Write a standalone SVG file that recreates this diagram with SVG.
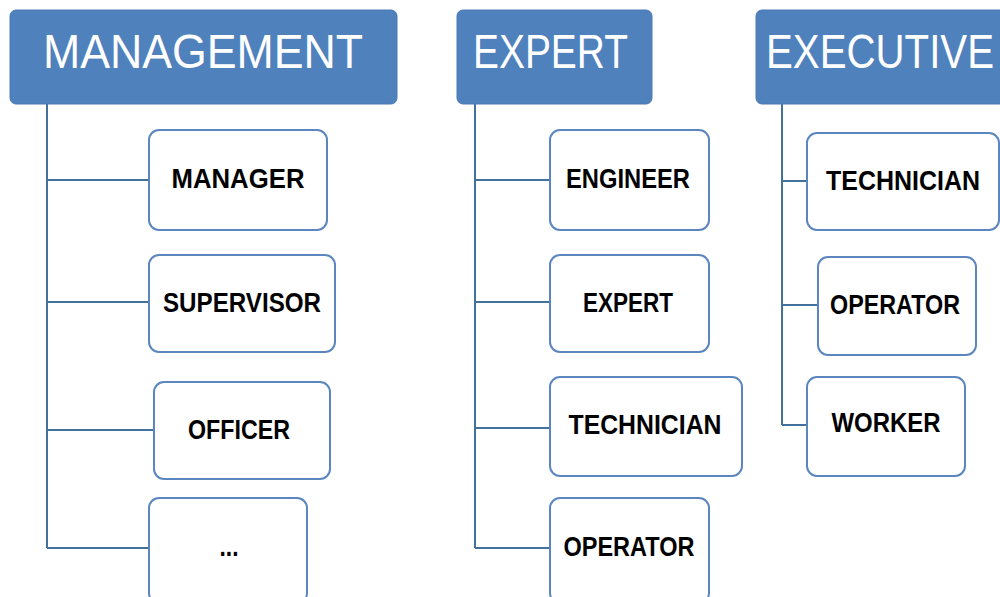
<svg xmlns="http://www.w3.org/2000/svg" width="1000" height="597" viewBox="0 0 1000 597">
<style>
.hdr{fill:#4F81BD;stroke:#4A7AB5;stroke-width:1}
.box{fill:#fff;stroke:#5B86C0;stroke-width:2}
.ht{font-family:"Liberation Sans",Arial,sans-serif;font-size:48px;fill:#fff}
.ct{font-family:"Liberation Sans",Arial,sans-serif;font-size:27px;font-weight:bold;fill:#000;text-anchor:middle}
.ln{fill:none;stroke:#41719C;stroke-width:2}
</style>
<rect width="1000" height="597" fill="#fff"/>
<g id="connectors">
<path class="ln" d="M47,104 V548 M47,180 H149 M47,302 H149 M47,430 H154 M47,548 H149"/>
<path class="ln" d="M475,104 V548 M475,180 H550 M475,302 H550 M475,428 H550 M475,548 H550"/>
<path class="ln" d="M782,104 V425 M782,181 H807 M782,305 H818 M782,425 H807"/>
</g>
<g id="management">
<rect class="hdr" x="10" y="10" width="387" height="94" rx="6"/>
<text class="ht" x="43" y="68" textLength="320" lengthAdjust="spacingAndGlyphs">MANAGEMENT</text>
</g>
<g id="expert-head">
<rect class="hdr" x="457" y="10" width="195" height="94" rx="6"/>
<text class="ht" x="473" y="68" textLength="155" lengthAdjust="spacingAndGlyphs">EXPERT</text>
</g>
<g id="executive">
<rect class="hdr" x="756" y="10" width="260" height="94" rx="6"/>
<text class="ht" x="766" y="68" textLength="228" lengthAdjust="spacingAndGlyphs">EXECUTIVE</text>
</g>
<g id="manager">
<rect class="box" x="149" y="130" width="178" height="100" rx="10"/>
<text class="ct" x="238" y="188" textLength="133" lengthAdjust="spacingAndGlyphs">MANAGER</text>
</g>
<g id="supervisor">
<rect class="box" x="149" y="255" width="186" height="97" rx="10"/>
<text class="ct" x="242" y="312" textLength="158" lengthAdjust="spacingAndGlyphs">SUPERVISOR</text>
</g>
<g id="officer">
<rect class="box" x="154" y="382" width="176" height="97" rx="10"/>
<text class="ct" x="239" y="439" textLength="102" lengthAdjust="spacingAndGlyphs">OFFICER</text>
</g>
<g id="etc">
<rect class="box" x="149" y="498" width="158" height="105" rx="10"/>
<text class="ct" x="229" y="556" textLength="19" lengthAdjust="spacingAndGlyphs">...</text>
</g>
<g id="engineer">
<rect class="box" x="550" y="130" width="159" height="100" rx="10"/>
<text class="ct" x="628" y="188" textLength="124" lengthAdjust="spacingAndGlyphs">ENGINEER</text>
</g>
<g id="expert">
<rect class="box" x="550" y="255" width="159" height="97" rx="10"/>
<text class="ct" x="628" y="312" textLength="90" lengthAdjust="spacingAndGlyphs">EXPERT</text>
</g>
<g id="technician1">
<rect class="box" x="550" y="377" width="192" height="99" rx="10"/>
<text class="ct" x="645" y="434" textLength="153" lengthAdjust="spacingAndGlyphs">TECHNICIAN</text>
</g>
<g id="operator1">
<rect class="box" x="550" y="498" width="159" height="105" rx="10"/>
<text class="ct" x="629" y="556" textLength="131" lengthAdjust="spacingAndGlyphs">OPERATOR</text>
</g>
<g id="technician2">
<rect class="box" x="807" y="133" width="192" height="97" rx="10"/>
<text class="ct" x="903" y="190" textLength="154" lengthAdjust="spacingAndGlyphs">TECHNICIAN</text>
</g>
<g id="operator2">
<rect class="box" x="818" y="257" width="158" height="98" rx="10"/>
<text class="ct" x="895" y="314" textLength="130" lengthAdjust="spacingAndGlyphs">OPERATOR</text>
</g>
<g id="worker">
<rect class="box" x="807" y="377" width="158" height="99" rx="10"/>
<text class="ct" x="886" y="432" textLength="109" lengthAdjust="spacingAndGlyphs">WORKER</text>
</g>
</svg>
